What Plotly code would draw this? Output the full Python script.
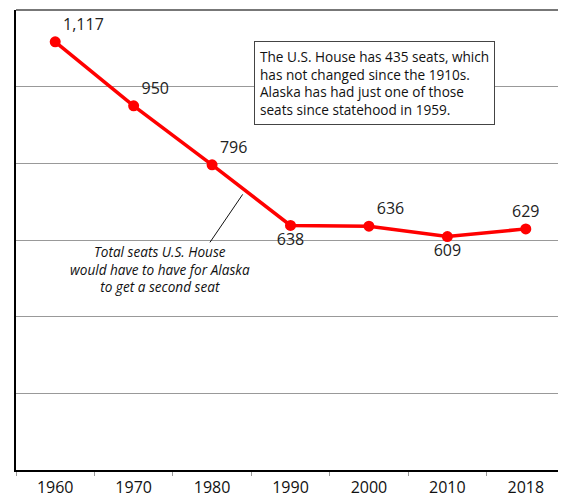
import plotly.graph_objects as go

# data
years = ['1960', '1970', '1980', '1990', '2000', '2010', '2018']
seats = [1117, 950, 796, 638, 636, 609, 629]
seat_labels = ['1,117', '950', '796', '638', '636', '609', '629']
label_pos = ['top right', 'top right', 'top right', 'bottom center',
             'top right', 'bottom center', 'top center']

box_text = ('The U.S. House has 435 seats, which<br>has not changed since the 1910s.'
            '<br>Alaska has had just one of those<br>seats since statehood in 1959.')
note_text = ('Total seats U.S. House<br>would have to have for Alaska'
             '<br>to get a second seat')

font = 'Open Sans'

fig = go.Figure()
fig.add_trace(go.Scatter(
    x=years, y=seats, mode='lines+markers+text',
    line=dict(color='#ff0000', width=3.5),
    marker=dict(color='#ff0000', size=11),
    text=seat_labels, textposition=label_pos,
    textfont=dict(family=font, size=16, color='#222'),
    cliponaxis=False, hoverinfo='skip', showlegend=False,
))

# text box in upper right
fig.add_annotation(
    x=0.434, y=0.932, xref='paper', yref='paper', xanchor='left', yanchor='top',
    text=box_text, align='left', showarrow=False,
    font=dict(family=font, size=13.6, color='#111'),
    bordercolor='#444', borderwidth=1, borderpad=5, bgcolor='white',
)

# leader line for the italic note
fig.add_annotation(
    x=2.39, y=719, ax=1.96, ay=590, xref='x', yref='y', axref='x', ayref='y',
    text='', showarrow=True, arrowhead=0, arrowwidth=1, arrowcolor='#111',
)
fig.add_annotation(
    x=1.34, y=600, xref='x', yref='y', yanchor='top',
    text='<i>' + note_text + '</i>', align='center', showarrow=False,
    font=dict(family=font, size=13.6, color='#111'),
)

# top and right frame
fig.add_shape(type='line', xref='paper', yref='paper', x0=0, x1=1, y0=1, y1=1,
              line=dict(color='#777', width=2))
fig.add_shape(type='line', xref='paper', yref='paper', x0=1, x1=1, y0=0, y1=1,
              line=dict(color='#555', width=2))

fig.update_xaxes(
    type='category', range=[-0.5, 6.5], showgrid=False,
    showline=True, linecolor='black', linewidth=1.5,
    ticks='outside', tickson='boundaries', ticklen=4, tickcolor='#999',
    tickfont=dict(family=font, size=16, color='#111'), ticklabelstandoff=2,
)
fig.update_yaxes(
    range=[0, 1200], dtick=200, showticklabels=False,
    showgrid=True, gridcolor='#999', gridwidth=1, zeroline=False,
    showline=True, linecolor='black', linewidth=1.5,
)
# page body adds 8px around the figure
fig.update_layout(
    width=558, height=491,
    margin=dict(l=8, r=1, t=2, b=27),
    paper_bgcolor='white', plot_bgcolor='white',
)

fig.write_html('out.html')
